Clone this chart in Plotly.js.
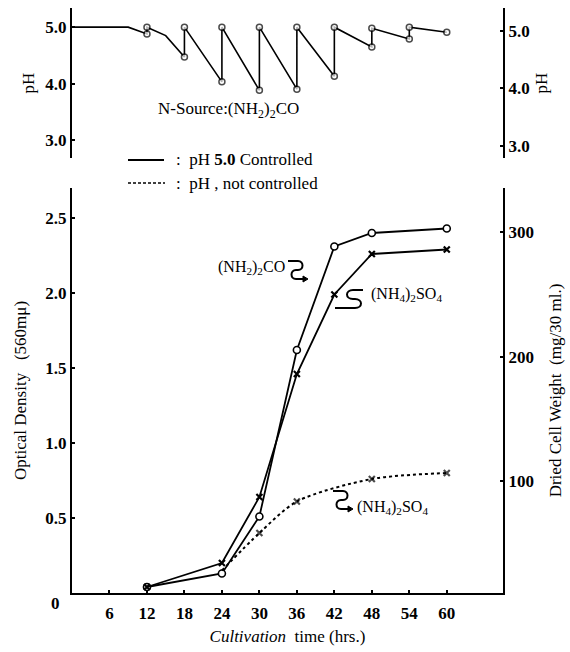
<!DOCTYPE html>
<html>
<head>
<meta charset="utf-8">
<script src="https://cdn.plot.ly/plotly-3.0.1.min.js"></script>
<style>html,body{margin:0;padding:0;background:#fff;}#chart{width:570px;height:652px;}</style>
</head>
<body>
<div id="chart"></div>
<script>
// ---- data ----
const timeHrs = [12, 24, 30, 36, 42, 48, 60];
const odUreaControlled = [0.04, 0.13, 0.51, 1.62, 2.31, 2.40, 2.43];
const odSulfateControlled = [0.04, 0.20, 0.64, 1.46, 1.99, 2.26, 2.29];
const timeUncontrolled = [24, 30, 36, 48, 60];
const odSulfateUncontrolled = [0.15, 0.40, 0.61, 0.76, 0.80];

const phTime  = [0, 9, 12, 12, 15, 18, 18, 24, 24, 30, 30, 36, 36, 42, 42, 48, 48, 54, 54, 60];
const phValue = [5.0, 5.0, 4.88, 5.0, 4.85, 4.47, 5.0, 4.03, 5.0, 3.88, 5.0, 3.90, 5.0, 4.13, 5.0, 4.65, 4.98, 4.79, 5.0, 4.91];
const phMarked = [false, false, true, true, false, true, true, true, true, true, true, true, true, true, true, true, true, true, true, true];

const xTicks = [6, 12, 18, 24, 30, 36, 42, 48, 54, 60];
const odTicks = [0.5, 1.0, 1.5, 2.0, 2.5];
const odTickText = ['0.5', '1.0', '1.5', '2.0', '2.5'];
const dcwTicks = [100, 200, 300];
const phTicks = [3, 4, 5];
const phTickText = ['3.0', '4.0', '5.0'];

// ---- layout helpers (pixel -> paper) ----
const L = 72, R = 67, T = 8, B = 59;
const PW = 570 - L - R, PH = 652 - T - B;
const px = v => (v - L) / PW;
const py = v => (652 - B - v) / PH;
const serif = "'Liberation Serif', 'Times New Roman', serif";
const tickFont = {family: serif, size: 17, color: '#000', weight: 700};
const textFont = {family: serif, size: 17, color: '#000'};

function squiggle(x0, y0) {
  const P = (a, b) => px(x0 + a) + ',' + py(y0 + b);
  return 'M' + P(0, 0) + ' L' + P(10, 0) + ' C' + P(16, 0) + ' ' + P(16, 9) + ' ' + P(10, 9) +
    ' L' + P(8, 9) + ' C' + P(2, 9) + ' ' + P(2, 18) + ' ' + P(8, 18) + ' L' + P(16, 18);
}
function arrowHead(x, y) {
  return 'M' + px(x) + ',' + py(y - 3) + ' L' + px(x + 5) + ',' + py(y) + ' L' + px(x) + ',' + py(y + 3) + ' Z';
}
function squiggleLeft(x0, y0) {
  const P = (a, b) => px(x0 + a) + ',' + py(y0 + b);
  return 'M' + P(28, 0) + ' L' + P(18, 0) + ' C' + P(10, 0) + ' ' + P(10, 9) + ' ' + P(18, 9) +
    ' L' + P(20, 9) + ' C' + P(28, 9) + ' ' + P(28, 18) + ' ' + P(20, 18) + ' L' + P(0, 18);
}

const traces = [
  {x: timeHrs, y: odUreaControlled, xaxis: 'x', yaxis: 'y', mode: 'lines+markers',
   line: {color: '#000', width: 1.8}, marker: {symbol: 'circle', size: 7, color: '#fff', line: {color: '#000', width: 1.6}}, hoverinfo: 'skip'},
  {x: timeHrs, y: odSulfateControlled, xaxis: 'x', yaxis: 'y', mode: 'lines+markers',
   line: {color: '#000', width: 1.8}, marker: {symbol: 'x-thin-open', size: 6, color: '#000', line: {color: '#000', width: 2.2}}, hoverinfo: 'skip'},
  {x: timeUncontrolled, y: odSulfateUncontrolled, xaxis: 'x', yaxis: 'y', mode: 'lines+markers',
   line: {color: '#000', width: 2, dash: '3px,3px', shape: 'spline', smoothing: 0.8},
   marker: {symbol: 'x-thin-open', size: timeUncontrolled.map((t, i) => i === 0 ? 0 : 6), color: '#000', line: {color: '#000', width: 2.2}}, hoverinfo: 'skip'},
  {x: [null], y: [null], xaxis: 'x', yaxis: 'y2', mode: 'lines', showlegend: false, hoverinfo: 'skip'},
  {x: phTime, y: phValue, xaxis: 'x2', yaxis: 'y3', mode: 'lines+markers',
   line: {color: '#000', width: 1.6},
   marker: {symbol: 'circle', size: phMarked.map(m => m ? 6 : 0), color: '#fff', line: {color: '#000', width: 1.5}}, hoverinfo: 'skip'},
  {x: [null], y: [null], xaxis: 'x2', yaxis: 'y4', mode: 'lines', showlegend: false, hoverinfo: 'skip'}
];

const axisBase = {showgrid: false, zeroline: false, showline: true, linecolor: '#000', linewidth: 2,
  ticks: 'inside', ticklen: 3, tickwidth: 2, tickcolor: '#000', tickfont: tickFont};

const layout = {
  width: 570, height: 652,
  margin: {l: L, r: R, t: T, b: B},
  paper_bgcolor: '#fff', plot_bgcolor: '#fff',
  showlegend: false,
  font: textFont,
  xaxis: Object.assign({}, axisBase, {domain: [0, 1], anchor: 'y', range: [0, 69], tickvals: xTicks,
    ticklabelstandoff: 4,
    title: {text: '<i>Cultivation</i>  time (hrs.)', font: textFont, standoff: 8}}),
  xaxis2: {domain: [0, 1], anchor: 'y3', range: [0, 69], visible: false},
  yaxis: Object.assign({}, axisBase, {domain: [0, py(188)], anchor: 'x', range: [0, 2.7],
    tickvals: odTicks, ticktext: odTickText,
    title: {text: 'Optical Density   (560mμ)', font: textFont, standoff: 14}}),
  yaxis2: Object.assign({}, axisBase, {overlaying: 'y', side: 'right', anchor: 'x', range: [10.4, 335.7],
    tickvals: dcwTicks,
    title: {text: 'Dried Cell Weight  (mg/30 ml.)', font: textFont, standoff: 16}}),
  yaxis3: Object.assign({}, axisBase, {domain: [py(158), 1], anchor: 'x2', range: [2.68, 5.34],
    tickvals: phTicks, ticktext: phTickText,
    title: {text: 'pH', font: textFont, standoff: 6}}),
  yaxis4: Object.assign({}, axisBase, {overlaying: 'y3', side: 'right', anchor: 'x2', range: [2.79, 5.40],
    tickvals: phTicks, ticktext: phTickText,
    title: {text: 'pH', font: textFont, standoff: 6}}),
  shapes: [
    {type: 'line', xref: 'paper', yref: 'paper', x0: px(128), x1: px(164), y0: py(160), y1: py(160), line: {color: '#000', width: 2}},
    {type: 'line', xref: 'paper', yref: 'paper', x0: px(128), x1: px(165), y0: py(183), y1: py(183), line: {color: '#000', width: 1.5, dash: '3px,2px'}},
    {type: 'path', xref: 'paper', yref: 'paper', path: squiggle(288, 261), line: {color: '#000', width: 2}},
    {type: 'path', xref: 'paper', yref: 'paper', path: arrowHead(303, 279), fillcolor: '#000', line: {color: '#000', width: 1}},
    {type: 'path', xref: 'paper', yref: 'paper', path: squiggleLeft(335, 290), line: {color: '#000', width: 2}},
    {type: 'path', xref: 'paper', yref: 'paper', path: squiggle(333, 491), line: {color: '#000', width: 2}},
    {type: 'path', xref: 'paper', yref: 'paper', path: arrowHead(348, 509), fillcolor: '#000', line: {color: '#000', width: 1}}
  ],
  annotations: [
    {xref: 'paper', yref: 'paper', x: px(62), y: py(603), text: '0', showarrow: false, xanchor: 'right', yanchor: 'middle', font: tickFont},
    {xref: 'paper', yref: 'paper', x: px(156), y: py(110), text: 'N-Source:(NH<sub>2</sub>)<sub>2</sub>CO', showarrow: false, xanchor: 'left', yanchor: 'middle', font: textFont},
    {xref: 'paper', yref: 'paper', x: px(174), y: py(160), text: ':  pH <b>5.0</b> Controlled', showarrow: false, xanchor: 'left', yanchor: 'middle', font: textFont},
    {xref: 'paper', yref: 'paper', x: px(174), y: py(183), text: ':  pH , not controlled', showarrow: false, xanchor: 'left', yanchor: 'middle', font: textFont},
    {xref: 'paper', yref: 'paper', x: px(287), y: py(267), text: '(NH<sub>2</sub>)<sub>2</sub>CO', showarrow: false, xanchor: 'right', yanchor: 'middle', font: {family: serif, size: 16, color: '#000'}},
    {xref: 'paper', yref: 'paper', x: px(369), y: py(294), text: '(NH<sub>4</sub>)<sub>2</sub>SO<sub>4</sub>', showarrow: false, xanchor: 'left', yanchor: 'middle', font: {family: serif, size: 16, color: '#000'}},
    {xref: 'paper', yref: 'paper', x: px(355), y: py(507), text: '(NH<sub>4</sub>)<sub>2</sub>SO<sub>4</sub>', showarrow: false, xanchor: 'left', yanchor: 'middle', font: {family: serif, size: 16, color: '#000'}}
  ]
};

Plotly.newPlot('chart', traces, layout, {staticPlot: true, displayModeBar: false});
</script>
</body>
</html>
